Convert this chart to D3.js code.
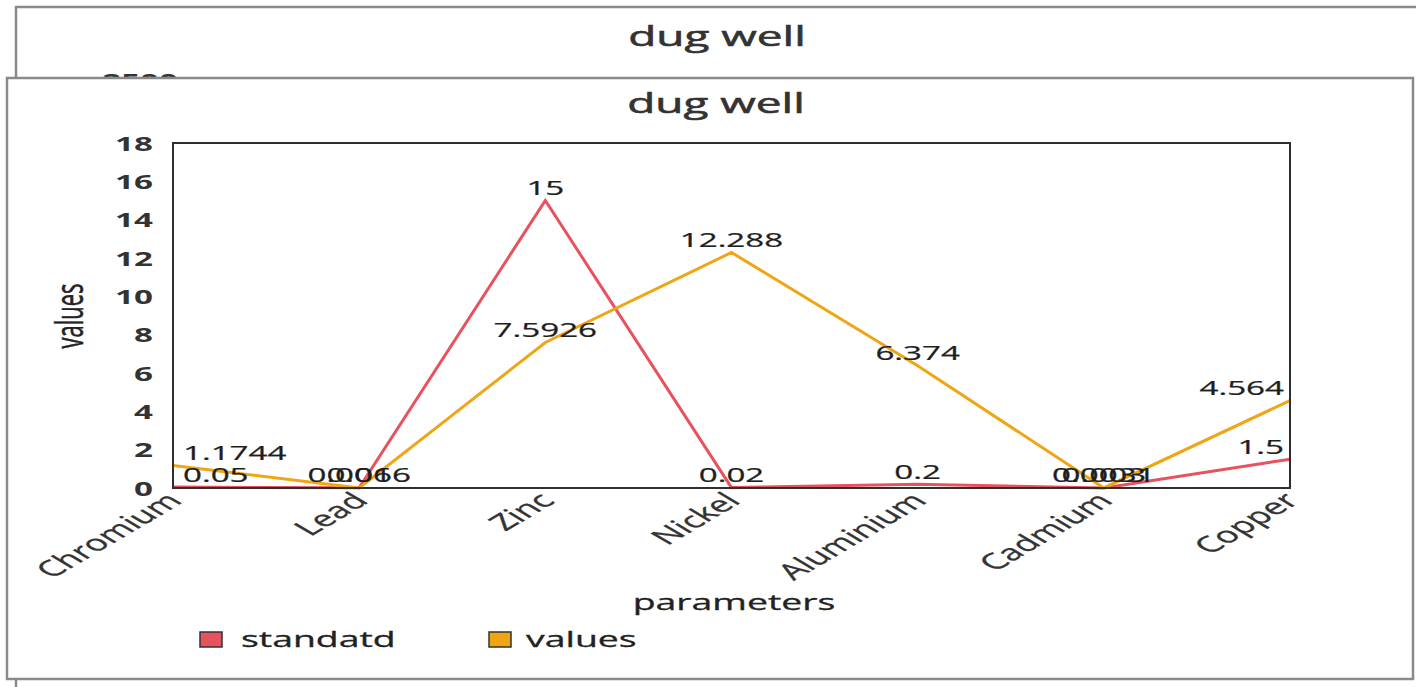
<!DOCTYPE html>
<html>
<head>
<meta charset="utf-8">
<script src="https://cdn.jsdelivr.net/npm/d3@7/dist/d3.min.js"></script>
<style>
  html, body { margin: 0; padding: 0; background: #ffffff; }
  svg { display: block; font-family: "Open Sans", "Noto Sans", sans-serif; }
</style>
</head>
<body>
<svg id="chart" width="1416" height="687"></svg>
<script>
// ---- data ----
const chartTitle = "dug well";
const categories = ["Chromium", "Lead", "Zinc", "Nickel", "Aluminium", "Cadmium", "Copper"];
const standatd = [0.05, 0.01, 15, 0.02, 0.2, 0.003, 1.5];
const valuesSeries = [1.1744, 0.0066, 7.5926, 12.288, 6.374, 0.0031, 4.564];
const yTicks = [0, 2, 4, 6, 8, 10, 12, 14, 16, 18];
const seriesNames = ["standatd", "values"];
const seriesColors = ["#e8525c", "#f0a514"];
const bgTickTop = "2500";

// ---- layout ----
const S = 1.7; // horizontal stretch of text
const plot = { left: 173, right: 1290, top: 143, bottom: 488 };
const svg = d3.select("#chart");

function stretchedText(g, x, y, txt, opts) {
  const t = g.append("text")
    .attr("transform", `translate(${x},${y}) scale(${opts.sx || S},1)` + (opts.rot ? ` rotate(${opts.rot})` : ""))
    .attr("text-anchor", opts.anchor || "middle")
    .attr("font-size", opts.size)
    .attr("font-weight", opts.weight || 400)
    .attr("fill", opts.fill || "#2a2a2a")
    .text(txt);
  if (opts.stroke) t.attr("stroke", opts.fill || "#2a2a2a").attr("stroke-width", opts.stroke);
  return t;
}

// background panel
svg.append("rect").attr("x", 16).attr("y", 7).attr("width", 1430).attr("height", 720)
  .attr("fill", "#fff").attr("stroke", "#8a8a8a").attr("stroke-width", 2.5);
stretchedText(svg, 717, 46, chartTitle, { size: 27, fill: "#333", stroke: 0.55 });
stretchedText(svg, 178, 88, bgTickTop, { size: 19.5, weight: 700, anchor: "end", fill: "#333" });

// foreground panel
svg.append("rect").attr("x", 7).attr("y", 78).attr("width", 1406).attr("height", 601)
  .attr("fill", "#fff").attr("stroke", "#8a8a8a").attr("stroke-width", 2.5);
stretchedText(svg, 716, 113, chartTitle, { size: 27, fill: "#333", stroke: 0.55 });

// scales
const x = d3.scalePoint().domain(categories).range([plot.left, plot.right]).padding(0);
const y = d3.scaleLinear().domain([0, 18]).range([plot.bottom, plot.top]);

// y axis
const yAxis = svg.append("g").attr("transform", `translate(${plot.left},0)`)
  .call(d3.axisLeft(y).tickValues(yTicks).tickSize(0).tickPadding(0));
yAxis.select(".domain").remove();
yAxis.selectAll("text")
  .attr("x", 0).attr("dy", "0.36em")
  .attr("transform", `translate(-20,0) scale(${S},1)`)
  .attr("text-anchor", "end")
  .attr("font-family", "'Open Sans', sans-serif")
  .attr("font-size", 19.5).attr("font-weight", 700).attr("fill", "#333");

// x axis
const xAxis = svg.append("g").attr("transform", `translate(0,${plot.bottom})`)
  .call(d3.axisBottom(x).tickSize(0).tickPadding(0));
xAxis.select(".domain").remove();
xAxis.selectAll("text")
  .attr("x", 0).attr("y", 0).attr("dy", 0)
  .attr("transform", `translate(10,14) scale(${S},1) rotate(-45)`)
  .attr("text-anchor", "end")
  .attr("font-family", "'Open Sans', sans-serif")
  .attr("font-size", 22).attr("fill", "#333")
  .attr("stroke", "#333").attr("stroke-width", 0.3);

// lines
const series = [standatd, valuesSeries];
const line = d3.line().x((d, i) => x(categories[i])).y(d => y(d));
series.forEach((s, k) => {
  svg.append("path").datum(s).attr("d", line)
    .attr("fill", "none").attr("stroke", seriesColors[k]).attr("stroke-width", 3)
    .attr("stroke-linejoin", "miter");
});

// frame
svg.append("rect").attr("x", plot.left).attr("y", plot.top)
  .attr("width", plot.right - plot.left).attr("height", plot.bottom - plot.top)
  .attr("fill", "none").attr("stroke", "#2e2e2e").attr("stroke-width", 2);

// data labels
const labG = svg.append("g");
series.forEach((s, k) => {
  s.forEach((v, i) => {
    const px = x(categories[i]);
    const py = y(v) - 5.5;
    const t = stretchedText(labG, px, py, String(v), { size: 19.5, fill: "#1e1e1e", anchor: "middle", stroke: 0.25 });
    const w = t.node().getComputedTextLength() * S;
    let cx = px;
    if (cx - w / 2 < plot.left + 10) cx = plot.left + 10 + w / 2;
    if (cx + w / 2 > plot.right - 6) cx = plot.right - 6 - w / 2;
    t.attr("transform", `translate(${cx},${py}) scale(${S},1)`);
  });
});

// axis titles
stretchedText(svg, 83, 316, "values", { size: 22, fill: "#222", rot: -90, stroke: 0.3 });
stretchedText(svg, 734, 610, "parameters", { size: 22, fill: "#222", stroke: 0.3 });

// legend
const legendItems = [{ name: seriesNames[0], color: seriesColors[0], x: 200, tx: 241 },
                     { name: seriesNames[1], color: seriesColors[1], x: 489, tx: 526 }];
legendItems.forEach(it => {
  svg.append("rect").attr("x", it.x).attr("y", 632).attr("width", 22).attr("height", 15)
    .attr("fill", it.color).attr("stroke", "#333").attr("stroke-width", 1.5);
  stretchedText(svg, it.tx, 647, it.name, { size: 22, fill: "#222", anchor: "start", stroke: 0.3 });
});
</script>
</body>
</html>
